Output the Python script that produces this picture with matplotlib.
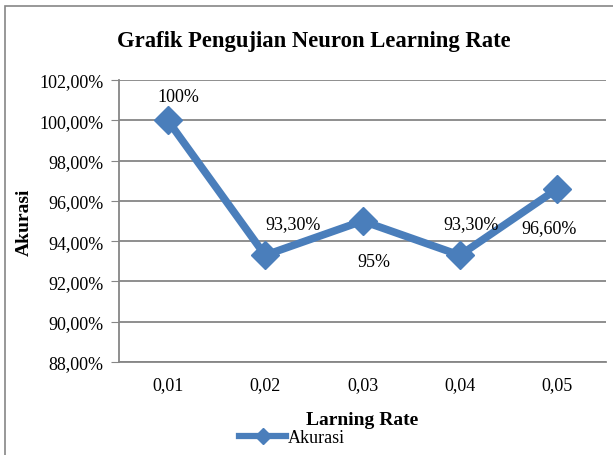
import matplotlib
matplotlib.use("Agg")
import matplotlib.pyplot as plt
from matplotlib.patches import Rectangle
from matplotlib.ticker import FuncFormatter
from matplotlib.lines import Line2D

categories = ["0,01", "0,02", "0,03", "0,04", "0,05"]
akurasi = [100.0, 93.3, 95.0, 93.3, 96.6]
labels = ["100%", "93,30%", "95%", "93,30%", "96,60%"]
label_offsets = [(8, 17), (20, 23), (8, -29), (8, 23), (-6, -28)]

plt.rcParams['font.family'] = ['Liberation Serif', 'DejaVu Serif']

W, H = 613, 456
fig = plt.figure(figsize=(W / 100, H / 100), dpi=100)
fig.patch.set_facecolor("white")

# outer chart border
fig.patches.append(Rectangle((5 / W, -0.1), 1.2, (H - 7) / H + 0.1, transform=fig.transFigure,
                             fill=False, edgecolor="#868686", linewidth=1.2, figure=fig))

left, right, top, bottom = 119, 606, 81, 363
ax = fig.add_axes([left / W, 1 - bottom / H, (right - left) / W, (bottom - top) / H])

x = list(range(len(categories)))
ax.plot(x, akurasi, color="#4A7EBB", linewidth=5.5, marker="D", markersize=14,
        markerfacecolor="#4A7EBB", markeredgecolor="#4A7EBB", zorder=3,
        solid_joinstyle="miter")

for xi, yi, lab, off in zip(x, akurasi, labels, label_offsets):
    ax.annotate(lab, (xi, yi), xytext=off, textcoords="offset points",
                ha="center", va="center", fontsize=13)

ax.set_xlim(-0.5, len(categories) - 0.5)
ax.set_ylim(88, 102)
ax.set_yticks([88, 90, 92, 94, 96, 98, 100, 102])
ax.yaxis.set_major_formatter(FuncFormatter(lambda v, p: f"{v:.2f}%".replace(".", ",")))
ax.set_xticks(x)
ax.set_xticklabels(categories)
ax.grid(axis="y", color="#868686", linewidth=1.3)
ax.set_axisbelow(True)
for s in ["top", "right"]:
    ax.spines[s].set_visible(False)
for s in ["left", "bottom"]:
    ax.spines[s].set_color("#868686")
    ax.spines[s].set_linewidth(1.3)
ax.tick_params(axis="y", length=6, color="#868686", labelsize=13, pad=5)
ax.tick_params(axis="x", length=0, labelsize=13, pad=10)

ax.set_xlabel("Larning Rate", fontsize=14, fontweight="bold", labelpad=13)
ax.set_ylabel("Akurasi", fontsize=14, fontweight="bold", labelpad=5)

fig.text(314 / W, 1 - 42 / H, "Grafik Pengujian Neuron Learning Rate", ha="center", va="center",
         fontsize=16.3, fontweight="bold")

handle = Line2D([], [], color="#4A7EBB", linewidth=4.5, marker="D", markersize=8,
                markerfacecolor="#4A7EBB", markeredgecolor="#4A7EBB")
fig.legend([handle], ["Akurasi"], loc="center", bbox_to_anchor=(292 / W, 1 - 439 / H),
           frameon=False, fontsize=13, handlelength=2.6, handletextpad=0.1, borderpad=0)

fig.savefig("out.png", dpi=100)
